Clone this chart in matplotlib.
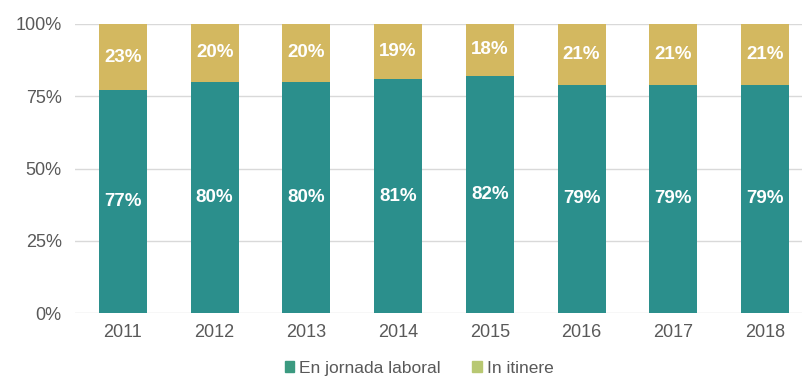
import matplotlib.pyplot as plt
from matplotlib.patches import Patch

years = ['2011', '2012', '2013', '2014', '2015', '2016', '2017', '2018']
jornada = [77, 80, 80, 81, 82, 79, 79, 79]
itinere = [23, 20, 20, 19, 18, 21, 21, 21]

plt.rcParams['font.family'] = ['Liberation Sans', 'DejaVu Sans']

teal = '#2b8f8c'
gold = '#d3b860'

fig = plt.figure(figsize=(8.03, 3.80), dpi=100)
ax = fig.add_axes([0.0934, 0.176, 0.9066, 0.761])

x = range(len(years))
w = 0.523
ax.bar(x, jornada, width=w, color=teal, zorder=2)
ax.bar(x, itinere, width=w, bottom=jornada, color=gold, zorder=2)

for i in x:
    ax.text(i, jornada[i] / 2, f'{jornada[i]}%', ha='center', va='center',
            color='white', fontsize=13.5, fontweight='bold', zorder=3)
    ax.text(i, jornada[i] + itinere[i] / 2, f'{itinere[i]}%', ha='center', va='center',
            color='white', fontsize=13.5, fontweight='bold', zorder=3)

ax.set_xlim(-0.523, 7.415)
ax.set_ylim(0, 100)
ax.set_yticks([0, 25, 50, 75, 100])
ax.set_yticklabels(['0%', '25%', '50%', '75%', '100%'])
ax.set_xticks(list(x))
ax.set_xticklabels(years)
ax.tick_params(axis='both', length=0, labelsize=13, colors='#595959')
ax.tick_params(axis='y', pad=9.5)
ax.tick_params(axis='x', pad=8)
ax.grid(axis='y', color='#d9d9d9', linewidth=1, zorder=0)
for s in ax.spines.values():
    s.set_visible(False)

handles = [Patch(color='#3b9a80', label='En jornada laboral'),
           Patch(color='#b8c872', label='In itinere')]
fig.legend(handles=handles, loc='lower center', bbox_to_anchor=(0.522, -0.03), ncol=2,
           frameon=False, fontsize=12.5, handlelength=0.55, handleheight=0.55,
           handletextpad=0.3, columnspacing=1.8, labelcolor='#595959')

fig.savefig('out.png', dpi=100)
